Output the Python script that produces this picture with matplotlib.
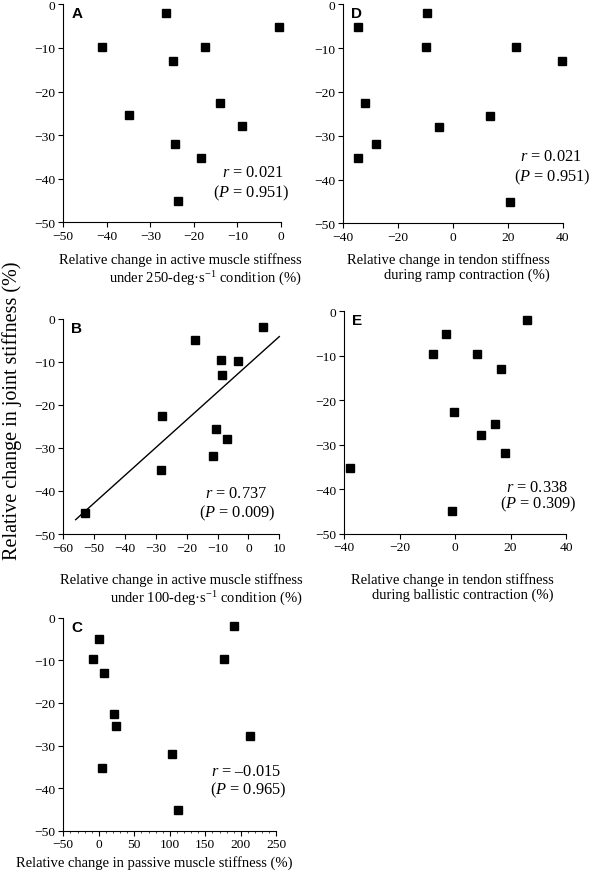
import numpy as np
import matplotlib
matplotlib.use("Agg")
import matplotlib.pyplot as plt
from matplotlib.ticker import MultipleLocator

plt.rcParams['font.family'] = ['Liberation Serif', 'DejaVu Serif']
plt.rcParams['mathtext.fontset'] = 'custom'
plt.rcParams['mathtext.rm'] = 'Liberation Serif'
plt.rcParams['mathtext.it'] = 'Liberation Serif:italic'

# joint stiffness change (%) - same subjects in every panel
joint_A = [-2.0, -5.1, -9.7, -9.9, -13.1, -25.5, -22.7, -28.0, -32.0, -35.2, -45.1]
active250 = [-26.4, -0.5, -41.0, -17.5, -24.7, -34.8, -14.1, -8.9, -24.3, -18.3, -23.6]

joint_B = [-1.9, -5.0, -9.7, -9.8, -13.0, -22.7, -25.5, -27.9, -31.9, -35.1, -45.1]
active100 = [4.6, -17.3, -9.0, -3.3, -8.7, -28.1, -10.6, -7.1, -11.4, -28.5, -53.0]
fit_range_B = [-56, 10]

joint_C = [-2.0, -5.1, -9.8, -9.6, -13.0, -22.7, -25.4, -27.8, -31.9, -35.2, -45.1]
passive = [190.4, -0.2, -7.7, 175.8, 6.8, 21.8, 23.7, 212.9, 103.5, 4.0, 111.5]

joint_D = [-2.0, -5.1, -9.7, -9.8, -13.0, -22.6, -25.5, -27.9, -31.9, -35.2, -45.1]
tendon_ramp = [-9.5, -34.5, -10.0, 22.9, 39.6, -32.2, 13.5, -5.2, -28.1, -34.5, 20.7]

joint_E = [-1.95, -5.0, -9.7, -9.7, -13.0, -22.6, -25.3, -27.8, -31.8, -35.2, -45.0]
tendon_ballistic = [25.8, -3.2, -7.9, 7.9, 16.5, -0.3, 14.3, 9.3, 18.1, -37.8, -1.1]

W, H = 591, 878
fig = plt.figure(figsize=(W / 100, H / 100), dpi=100)


def px_axes(left, right, top, bottom):
    return fig.add_axes([left / W, 1 - bottom / H, (right - left) / W, (bottom - top) / H])


def ftext(x, y, s, **kw):
    fig.text(x / W, 1 - y / H, s, **kw)


def style(ax, xlim, xstep):
    ax.set_xlim(xlim)
    ax.set_ylim(-50, 0)
    ax.xaxis.set_major_locator(MultipleLocator(xstep))
    ax.yaxis.set_major_locator(MultipleLocator(10))
    for s in ['top', 'right']:
        ax.spines[s].set_visible(False)
    for s in ['left', 'bottom']:
        ax.spines[s].set_linewidth(0.8)
    ax.tick_params(direction='out', length=3.5, width=0.8, labelsize=9.7, pad=2)
    ax.patch.set_alpha(0)


panels = [
    # letter, x, y, rect, xlim, step, r text, P text, stat pos, xlabel, xlabel pos
    ('A', active250, joint_A, (63.3, 281, 5.3, 223.3), (-50, 0), 10,
     '$r$ = 0.021', '($P$ = 0.951)', (284, 173, 289, 193),
     'Relative change in active muscle stiffness\nunder 250-deg·s$^{-1}$ condition (%)', (302, 253)),
    ('D', tendon_ramp, joint_D, (343.3, 562.7, 5.3, 224.3), (-40, 40), 20,
     '$r$ = 0.021', '($P$ = 0.951)', (582, 157, 590, 177),
     'Relative change in tendon stiffness\nduring ramp contraction (%)', (550, 253)),
    ('B', active100, joint_B, (63.3, 279.3, 319.7, 535), (-60, 10), 10,
     '$r$ = 0.737', '($P$ = 0.009)', (267, 494, 275, 513),
     'Relative change in active muscle stiffness\nunder 100-deg·s$^{-1}$ condition (%)', (303, 573)),
    ('E', tendon_ballistic, joint_E, (344.3, 566, 312.3, 534.7), (-40, 40), 20,
     '$r$ = 0.338', '($P$ = 0.309)', (568, 488, 576, 504),
     'Relative change in tendon stiffness\nduring ballistic contraction (%)', (554, 573)),
    ('C', passive, joint_C, (63.3, 276.3, 618.7, 831.7), (-50, 250), 50,
     '$r$ = \u20130.015', '($P$ = 0.965)', (281, 772, 286, 790),
     'Relative change in passive muscle stiffness (%)', (292, 856)),
]

for letter, xs, ys, rect, xlim, step, rtxt, ptxt, spos, xlab, lpos in panels:
    ax = px_axes(*rect)
    style(ax, xlim, step)
    ax.plot(xs, ys, 's', color='black', markersize=5.4, clip_on=False, zorder=3)
    if letter == 'B':
        k, b = np.polyfit(xs, ys, 1)
        lx = np.array(fit_range_B)
        ax.plot(lx, k * lx + b, color='black', lw=1.0, clip_on=False)
    if letter == 'C':
        ax.xaxis.set_minor_locator(MultipleLocator(10))
        ax.tick_params(axis='x', which='minor', length=1.5, width=0.5)
    ftext(rect[0] + 8, rect[2] + 2, letter, family='Liberation Sans', weight='bold',
          fontsize=11, ha='left', va='top')
    ftext(spos[0], spos[1], rtxt, fontsize=11.8, ha='right', va='center')
    ftext(spos[2], spos[3], ptxt, fontsize=11.8, ha='right', va='center')
    ftext(lpos[0], lpos[1], xlab, fontsize=10.5, ha='right', va='top',
          multialignment='right', linespacing=1.2)

ftext(12, 411, 'Relative change in joint stiffness (%)', fontsize=14.5,
      rotation=90, ha='center', va='center')

fig.savefig('out.png', dpi=100)
